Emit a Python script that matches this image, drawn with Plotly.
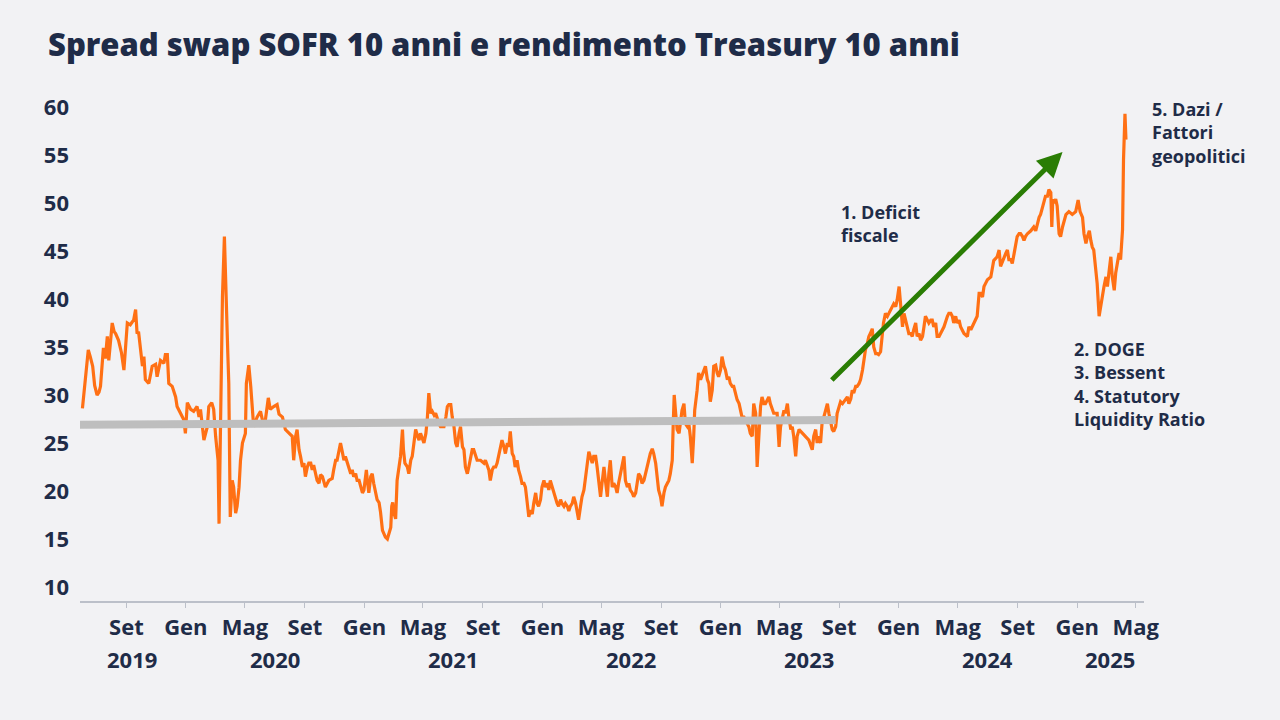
import plotly.graph_objects as go

# ---------------- data ----------------
dates = [
 "2019-06-03","2019-06-09","2019-06-15","2019-06-19","2019-06-24","2019-06-28",
 "2019-07-03","2019-07-07","2019-07-10","2019-07-16","2019-07-20","2019-07-24","2019-07-27",
 "2019-08-03","2019-08-07","2019-08-10","2019-08-16","2019-08-22","2019-08-27",
 "2019-09-03","2019-09-09","2019-09-13","2019-09-16","2019-09-20","2019-09-23","2019-09-26","2019-09-30",
 "2019-10-04","2019-10-07","2019-10-10","2019-10-17","2019-10-24","2019-10-31",
 "2019-11-03","2019-11-10","2019-11-17","2019-11-20","2019-11-24","2019-11-27",
 "2019-12-04","2019-12-11","2019-12-14","2019-12-21","2019-12-28","2019-12-31",
 "2020-01-04","2020-01-11","2020-01-17","2020-01-24","2020-01-28","2020-01-31",
 "2020-02-07","2020-02-14","2020-02-17","2020-02-23","2020-02-27",
 "2020-03-02","2020-03-07","2020-03-09","2020-03-11","2020-03-16","2020-03-20","2020-03-24","2020-03-27","2020-03-29","2020-03-31",
 "2020-04-01","2020-04-05","2020-04-08","2020-04-12","2020-04-15","2020-04-19","2020-04-22","2020-04-26",
 "2020-05-02","2020-05-04","2020-05-09","2020-05-13","2020-05-19","2020-05-26",
 "2020-06-02","2020-06-09","2020-06-12","2020-06-18","2020-06-22","2020-06-29",
 "2020-07-06","2020-07-10","2020-07-17","2020-07-23","2020-07-30",
 "2020-08-06","2020-08-09","2020-08-13","2020-08-16","2020-08-20","2020-08-23","2020-08-27","2020-08-30",
 "2020-09-02","2020-09-06","2020-09-09","2020-09-13","2020-09-16","2020-09-19","2020-09-23","2020-09-26","2020-09-30",
 "2020-10-03","2020-10-07","2020-10-10","2020-10-13","2020-10-20","2020-10-27","2020-10-30",
 "2020-11-03","2020-11-06","2020-11-10","2020-11-13","2020-11-17","2020-11-20","2020-11-23","2020-11-27","2020-11-30",
 "2020-12-04","2020-12-07","2020-12-10","2020-12-14","2020-12-17","2020-12-21","2020-12-24","2020-12-28","2020-12-31",
 "2021-01-03","2021-01-05","2021-01-07","2021-01-10","2021-01-14","2021-01-17","2021-01-20","2021-01-24","2021-01-27","2021-01-31",
 "2021-02-03","2021-02-07","2021-02-10","2021-02-13","2021-02-17","2021-02-20","2021-02-24","2021-02-26","2021-02-28",
 "2021-03-02","2021-03-06","2021-03-09","2021-03-13","2021-03-16","2021-03-20","2021-03-22","2021-03-25","2021-03-30",
 "2021-04-02","2021-04-06","2021-04-09","2021-04-13","2021-04-16","2021-04-20","2021-04-23","2021-04-26","2021-04-30",
 "2021-05-03","2021-05-07","2021-05-10","2021-05-13","2021-05-17","2021-05-20","2021-05-24","2021-05-27","2021-05-31",
 "2021-06-03","2021-06-06","2021-06-10","2021-06-13","2021-06-17","2021-06-20","2021-06-23","2021-06-27","2021-06-30",
 "2021-07-03","2021-07-07","2021-07-10","2021-07-14","2021-07-17","2021-07-21","2021-07-24","2021-07-27","2021-07-31",
 "2021-08-03","2021-08-07","2021-08-10","2021-08-13","2021-08-17","2021-08-20","2021-08-27",
 "2021-09-03","2021-09-06","2021-09-10","2021-09-13","2021-09-16","2021-09-20","2021-09-23","2021-09-27","2021-09-30",
 "2021-10-03","2021-10-07","2021-10-10","2021-10-14","2021-10-17","2021-10-21","2021-10-24","2021-10-27","2021-10-31",
 "2021-11-03","2021-11-06","2021-11-10","2021-11-13","2021-11-17","2021-11-20","2021-11-24","2021-11-27","2021-11-30",
 "2021-12-04","2021-12-07","2021-12-11","2021-12-14","2021-12-18","2021-12-21","2021-12-24","2021-12-28","2021-12-31",
 "2022-01-04","2022-01-07","2022-01-11","2022-01-14","2022-01-17","2022-01-21","2022-01-24","2022-01-28","2022-01-31",
 "2022-02-03","2022-02-07","2022-02-10","2022-02-14","2022-02-17","2022-02-21","2022-02-24","2022-02-27",
 "2022-03-03","2022-03-06","2022-03-10","2022-03-13","2022-03-16","2022-03-20","2022-03-23","2022-03-27","2022-03-30",
 "2022-04-03","2022-04-06","2022-04-09","2022-04-13","2022-04-16","2022-04-20","2022-04-23","2022-04-26","2022-04-30",
 "2022-05-03","2022-05-07","2022-05-10","2022-05-14","2022-05-17","2022-05-20","2022-05-24","2022-05-27","2022-05-31",
 "2022-06-03","2022-06-06","2022-06-10","2022-06-13","2022-06-17","2022-06-20","2022-06-24","2022-06-27","2022-06-30",
 "2022-07-04","2022-07-07","2022-07-11","2022-07-14","2022-07-17","2022-07-21","2022-07-24","2022-07-28","2022-07-31",
 "2022-08-04","2022-08-07","2022-08-10","2022-08-14","2022-08-17","2022-08-21","2022-08-24","2022-08-27","2022-08-31",
 "2022-09-03","2022-09-07","2022-09-10","2022-09-14","2022-09-17","2022-09-20","2022-09-24","2022-09-26","2022-09-28",
 "2022-10-01","2022-10-04","2022-10-08","2022-10-11","2022-10-14","2022-10-18","2022-10-21","2022-10-25","2022-10-28","2022-10-31",
 "2022-11-04","2022-11-07","2022-11-09","2022-11-14","2022-11-17","2022-11-21","2022-11-24","2022-11-28",
 "2022-12-01","2022-12-05","2022-12-08","2022-12-11","2022-12-15","2022-12-18","2022-12-22","2022-12-25","2022-12-28",
 "2023-01-01","2023-01-04","2023-01-08","2023-01-11","2023-01-15","2023-01-18","2023-01-21","2023-01-25","2023-01-28",
 "2023-02-01","2023-02-04","2023-02-08","2023-02-11","2023-02-14","2023-02-18","2023-02-21","2023-02-25","2023-02-28",
 "2023-03-03","2023-03-07","2023-03-10","2023-03-14","2023-03-17","2023-03-20","2023-03-24","2023-03-27","2023-03-31",
 "2023-04-03","2023-04-10","2023-04-13","2023-04-20","2023-04-27",
 "2023-05-01","2023-05-04","2023-05-08","2023-05-11","2023-05-14","2023-05-18","2023-05-21","2023-05-25","2023-05-28","2023-05-31",
 "2023-06-04","2023-06-07","2023-06-11","2023-06-18","2023-06-24",
 "2023-07-01","2023-07-08","2023-07-11","2023-07-15","2023-07-18","2023-07-21","2023-07-25","2023-07-28",
 "2023-08-01","2023-08-04","2023-08-08","2023-08-11","2023-08-14","2023-08-18","2023-08-21","2023-08-25","2023-08-28",
 "2023-09-01","2023-09-04","2023-09-08","2023-09-11","2023-09-14","2023-09-18","2023-09-21","2023-09-25","2023-09-28",
 "2023-10-01","2023-10-05","2023-10-08","2023-10-12","2023-10-15","2023-10-19","2023-10-22","2023-10-25","2023-10-29",
 "2023-11-01","2023-11-04","2023-11-08","2023-11-11","2023-11-15","2023-11-18","2023-11-21","2023-11-25","2023-11-28",
 "2023-12-01","2023-12-05","2023-12-09","2023-12-12","2023-12-16","2023-12-19","2023-12-22","2023-12-26","2023-12-29",
 "2024-01-02","2024-01-04","2024-01-05","2024-01-09","2024-01-12","2024-01-15","2024-01-19","2024-01-22","2024-01-26","2024-01-29",
 "2024-02-01","2024-02-05","2024-02-08","2024-02-12","2024-02-15","2024-02-19","2024-02-22","2024-02-25","2024-02-29",
 "2024-03-03","2024-03-07","2024-03-10","2024-03-13","2024-03-17","2024-03-20","2024-03-24","2024-03-27",
 "2024-04-03","2024-04-10","2024-04-13","2024-04-17","2024-04-20","2024-04-23","2024-04-27","2024-04-30",
 "2024-05-04","2024-05-07","2024-05-14","2024-05-21","2024-05-24","2024-05-28",
 "2024-06-03","2024-06-07","2024-06-10","2024-06-14","2024-06-17","2024-06-21","2024-06-24","2024-06-27",
 "2024-07-01","2024-07-08","2024-07-11","2024-07-14","2024-07-21","2024-07-25","2024-07-28",
 "2024-08-01","2024-08-04","2024-08-08","2024-08-11","2024-08-14","2024-08-18","2024-08-21","2024-08-25","2024-08-28","2024-08-31",
 "2024-09-04","2024-09-07","2024-09-11","2024-09-14","2024-09-17","2024-09-21","2024-09-28",
 "2024-10-04","2024-10-08","2024-10-11","2024-10-15","2024-10-18","2024-10-22","2024-10-25","2024-10-28",
 "2024-11-01","2024-11-04","2024-11-08","2024-11-10","2024-11-12","2024-11-14","2024-11-18","2024-11-21","2024-11-25","2024-11-28",
 "2024-12-02","2024-12-05","2024-12-09","2024-12-15","2024-12-22","2024-12-29",
 "2025-01-03","2025-01-07","2025-01-12","2025-01-15","2025-01-19","2025-01-22","2025-01-26","2025-01-29",
 "2025-02-01","2025-02-04","2025-02-08","2025-02-11","2025-02-15","2025-02-18","2025-02-22","2025-02-25",
 "2025-03-01","2025-03-04","2025-03-07","2025-03-11","2025-03-14","2025-03-18","2025-03-21","2025-03-25","2025-03-28","2025-03-31",
 "2025-04-04","2025-04-06","2025-04-09","2025-04-11",
]

spread = [
 28.6,31.5,34.7,34.0,33.0,31.0,
 30.0,30.3,30.9,34.9,33.8,36.1,33.6,
 37.5,36.6,36.4,35.7,34.4,32.6,
 37.5,37.3,37.6,37.8,38.9,36.4,36.6,34.4,
 33.0,34.0,31.6,31.2,33.0,33.2,
 31.9,33.6,33.3,34.2,34.2,31.2,
 30.9,29.8,28.8,28.1,27.4,26.0,
 29.2,28.5,28.3,28.8,27.7,28.5,
 25.3,26.7,28.8,29.2,28.5,
 25.7,23.2,16.6,24.0,40.2,46.5,37.8,34.3,31.2,20.4,
 17.3,21.1,20.4,17.7,18.4,20.4,23.2,25.0,
 26.0,31.2,33.1,30.9,26.7,27.7,
 28.3,26.7,27.4,29.7,28.5,28.8,
 29.0,28.0,27.7,26.4,26.0,
 25.7,23.2,25.7,26.4,24.3,23.6,22.5,22.9,
 21.5,22.5,22.9,22.9,22.2,22.7,21.8,21.1,20.8,
 21.7,21.5,20.8,20.4,21.1,21.3,22.2,
 23.2,23.2,24.3,25.0,24.0,23.2,23.6,22.9,22.5,
 21.8,22.2,21.5,21.8,21.1,21.1,20.4,19.8,20.1,
 21.1,22.2,21.1,19.8,21.5,21.8,20.8,19.8,19.1,18.8,
 17.8,15.9,15.5,15.2,15.0,15.5,16.2,18.4,18.8,
 17.8,17.1,21.1,22.9,23.6,26.4,24.3,22.9,22.5,
 21.8,23.2,23.6,25.3,26.4,25.7,25.3,26.0,25.3,
 25.0,26.0,27.6,30.2,28.1,28.3,27.9,28.1,27.4,
 27.0,26.7,26.7,26.7,27.7,28.8,29.0,29.0,27.7,
 27.0,25.0,24.6,26.0,26.7,24.6,24.3,22.5,21.8,
 22.5,23.6,24.3,24.3,23.6,23.2,23.2,
 22.9,23.2,22.5,22.2,21.1,22.2,22.5,22.5,22.9,
 23.6,24.6,25.3,24.6,23.9,25.0,24.6,26.2,23.9,
 23.6,22.5,23.2,22.2,21.5,20.8,20.8,20.4,19.1,
 17.3,18.0,17.6,18.7,19.8,18.7,18.4,19.1,20.4,
 21.1,20.4,20.8,20.1,21.1,20.4,19.8,19.1,18.7,
 18.4,19.1,18.7,18.4,18.7,18.4,17.9,18.4,
 18.7,19.4,18.7,18.0,17.0,18.4,19.4,20.1,21.5,
 23.2,24.1,23.6,22.9,23.6,23.6,22.5,21.1,19.4,
 20.8,22.5,21.1,19.4,21.8,23.2,20.4,20.8,20.4,
 19.8,20.8,21.8,22.9,23.6,21.1,20.4,20.8,20.1,
 19.8,19.4,19.8,20.8,21.8,21.5,20.8,21.1,21.8,
 22.5,23.2,23.9,24.4,23.9,22.9,21.1,20.1,19.4,
 18.4,19.8,20.4,20.8,21.1,21.8,23.2,27.0,30.0,
 28.1,26.4,26.0,27.4,28.4,29.1,27.0,26.7,27.0,25.7,
 22.9,25.7,28.4,30.5,32.3,31.6,32.0,32.6,
 33.0,31.6,31.2,29.3,30.5,33.0,33.1,32.3,31.9,
 32.6,34.0,33.0,32.6,31.6,31.9,31.2,30.9,30.9,
 30.2,29.5,29.1,28.4,27.7,27.7,27.4,27.0,26.7,
 26.0,25.7,29.1,28.1,22.5,26.0,28.8,29.8,29.1,
 29.1,29.8,29.1,28.1,28.1,
 24.6,26.7,27.7,28.4,28.1,29.1,27.7,26.4,26.7,25.7,
 23.6,25.7,26.4,26.0,25.7,
 25.3,24.3,25.7,26.4,25.0,25.7,25.0,27.0,
 27.7,28.4,29.1,28.1,27.4,26.4,26.2,26.7,28.1,
 28.8,29.3,29.1,29.3,29.5,29.8,29.1,29.6,30.5,
 30.2,30.9,30.9,31.2,31.6,32.6,34.0,34.7,35.4,
 36.1,36.4,36.9,35.0,34.3,34.3,34.2,34.5,36.1,
 37.5,38.5,38.2,38.5,38.9,39.2,39.5,39.2,39.9,
 41.3,40.2,39.0,37.1,38.5,37.8,37.0,36.4,36.4,36.1,
 36.8,37.5,36.1,36.4,35.7,36.1,37.1,38.2,37.8,
 37.5,37.8,37.8,37.1,37.5,36.1,36.1,36.4,
 37.1,38.2,38.5,38.5,38.2,37.5,38.2,37.5,
 37.8,37.1,36.4,36.1,37.1,36.8,
 37.5,37.8,38.2,40.6,40.6,40.2,41.3,41.6,
 42.0,42.3,43.4,44.0,44.4,45.1,43.4,
 44.0,44.4,44.8,45.1,44.1,44.1,43.7,44.8,45.8,46.5,
 46.8,46.8,46.5,46.1,46.5,46.8,47.1,
 47.5,47.1,47.8,48.5,48.8,49.5,50.0,50.7,
 50.7,51.4,51.1,47.5,50.4,50.0,50.4,49.7,46.8,46.5,
 47.5,48.1,48.8,49.1,48.8,49.1,
 50.3,49.1,48.5,46.8,45.8,46.5,47.1,46.1,
 45.4,45.1,42.7,41.6,38.2,39.2,40.6,41.3,
 42.3,41.3,42.7,44.4,42.3,40.9,42.7,43.7,44.8,44.1,
 47.2,54.5,59.3,56.6,
]

# grey reference level (start / end)
ref_dates = ["2019-05-29", "2023-08-25"]
ref_values = [26.9, 27.4]

# green trend arrow (tail / head)
arrow_dates = ["2023-08-14", "2024-12-02"]
arrow_values = [31.4, 55.3]

tick_dates = ["2019-09-01","2020-01-01","2020-05-01","2020-09-01","2021-01-01","2021-05-01",
              "2021-09-01","2022-01-01","2022-05-01","2022-09-01","2023-01-01","2023-05-01",
              "2023-09-01","2024-01-01","2024-05-01","2024-09-01","2025-01-01","2025-05-01"]
tick_labels = ["Set","Gen","Mag"] * 6

year_labels = ["2019","2020","2021","2022","2023","2024","2025"]
year_centers = ["2019-09-13","2020-07-01","2021-07-02","2022-07-02","2023-07-02","2024-07-01","2025-03-10"]

y_ticks = [10, 15, 20, 25, 30, 35, 40, 45, 50, 55, 60]

title = "Spread swap SOFR 10 anni e rendimento Treasury 10 anni"
note1 = "1. Deficit<br>fiscale"
note2 = "2. DOGE<br>3. Bessent<br>4. Statutory<br>Liquidity Ratio"
note3 = "5. Dazi /<br>Fattori<br>geopolitici"

# ---------------- style ----------------
NAVY = "#1F2C48"
ORANGE = "#FF7014"
GREEN = "#2A7D04"
GREY = "#BEBEBE"
BG = "#F2F2F4"
FONT = "Open Sans"

fig = go.Figure()
fig.add_trace(go.Scatter(x=dates, y=spread, mode="lines",
                         line=dict(color=ORANGE, width=3.2), hoverinfo="x+y"))
fig.add_trace(go.Scatter(x=ref_dates, y=ref_values, mode="lines",
                         line=dict(color=GREY, width=8), hoverinfo="skip"))

annotations = []
annotations.append(dict(x=arrow_dates[1], y=arrow_values[1], ax=arrow_dates[0], ay=arrow_values[0],
                        xref="x", yref="y", axref="x", ayref="y", text="", showarrow=True,
                        arrowhead=2, arrowsize=1.0, arrowwidth=5, arrowcolor=GREEN, standoff=0))
for lab, c in zip(year_labels, year_centers):
    annotations.append(dict(x=c, y=-0.113, xref="x", yref="paper", text=lab, showarrow=False,
                            xanchor="center", yanchor="middle",
                            font=dict(family=FONT, size=22, color=NAVY, weight=700)))
annotations.append(dict(x="2023-08-31", y=50.5, xref="x", yref="y", text=note1, showarrow=False,
                        xanchor="left", yanchor="top", align="left",
                        font=dict(family=FONT, size=18, color=NAVY, weight=700)))
annotations.append(dict(x="2024-12-22", y=36.3, xref="x", yref="y", text=note2, showarrow=False,
                        xanchor="left", yanchor="top", align="left",
                        font=dict(family=FONT, size=18, color=NAVY, weight=700)))
annotations.append(dict(x=(1150 - 80) / 1064, y=(601 - 95) / 511, xref="paper", yref="paper",
                        text=note3, showarrow=False,
                        xanchor="left", yanchor="top", align="left",
                        font=dict(family=FONT, size=18, color=NAVY, weight=700)))

fig.update_layout(
    width=1280, height=720,
    paper_bgcolor=BG, plot_bgcolor=BG,
    margin=dict(l=80, r=136, t=90, b=119),
    showlegend=False,
    title=dict(text=title, x=48/1280, xanchor="left", y=1-45/720, yanchor="middle",
               font=dict(family=FONT, size=31, color=NAVY, weight=800)),
    annotations=annotations,
)
fig.update_xaxes(type="date", range=["2019-05-29", "2025-05-18"],
                 tickmode="array", tickvals=tick_dates, ticktext=tick_labels,
                 showgrid=False, zeroline=False,
                 showline=True, linecolor="#BCC0C9", linewidth=1.5,
                 ticks="outside", ticklen=5, tickcolor="#BCC0C9", tickwidth=1,
                 tickfont=dict(family=FONT, size=22, color=NAVY, weight=700),
                 ticklabelstandoff=1)
fig.update_yaxes(range=[8.54, 61.77], tickmode="array", tickvals=y_ticks,
                 showgrid=False, zeroline=False, showline=False,
                 tickfont=dict(family=FONT, size=22, color=NAVY, weight=700),
                 ticklabelstandoff=10)

fig.write_html("out.html")
